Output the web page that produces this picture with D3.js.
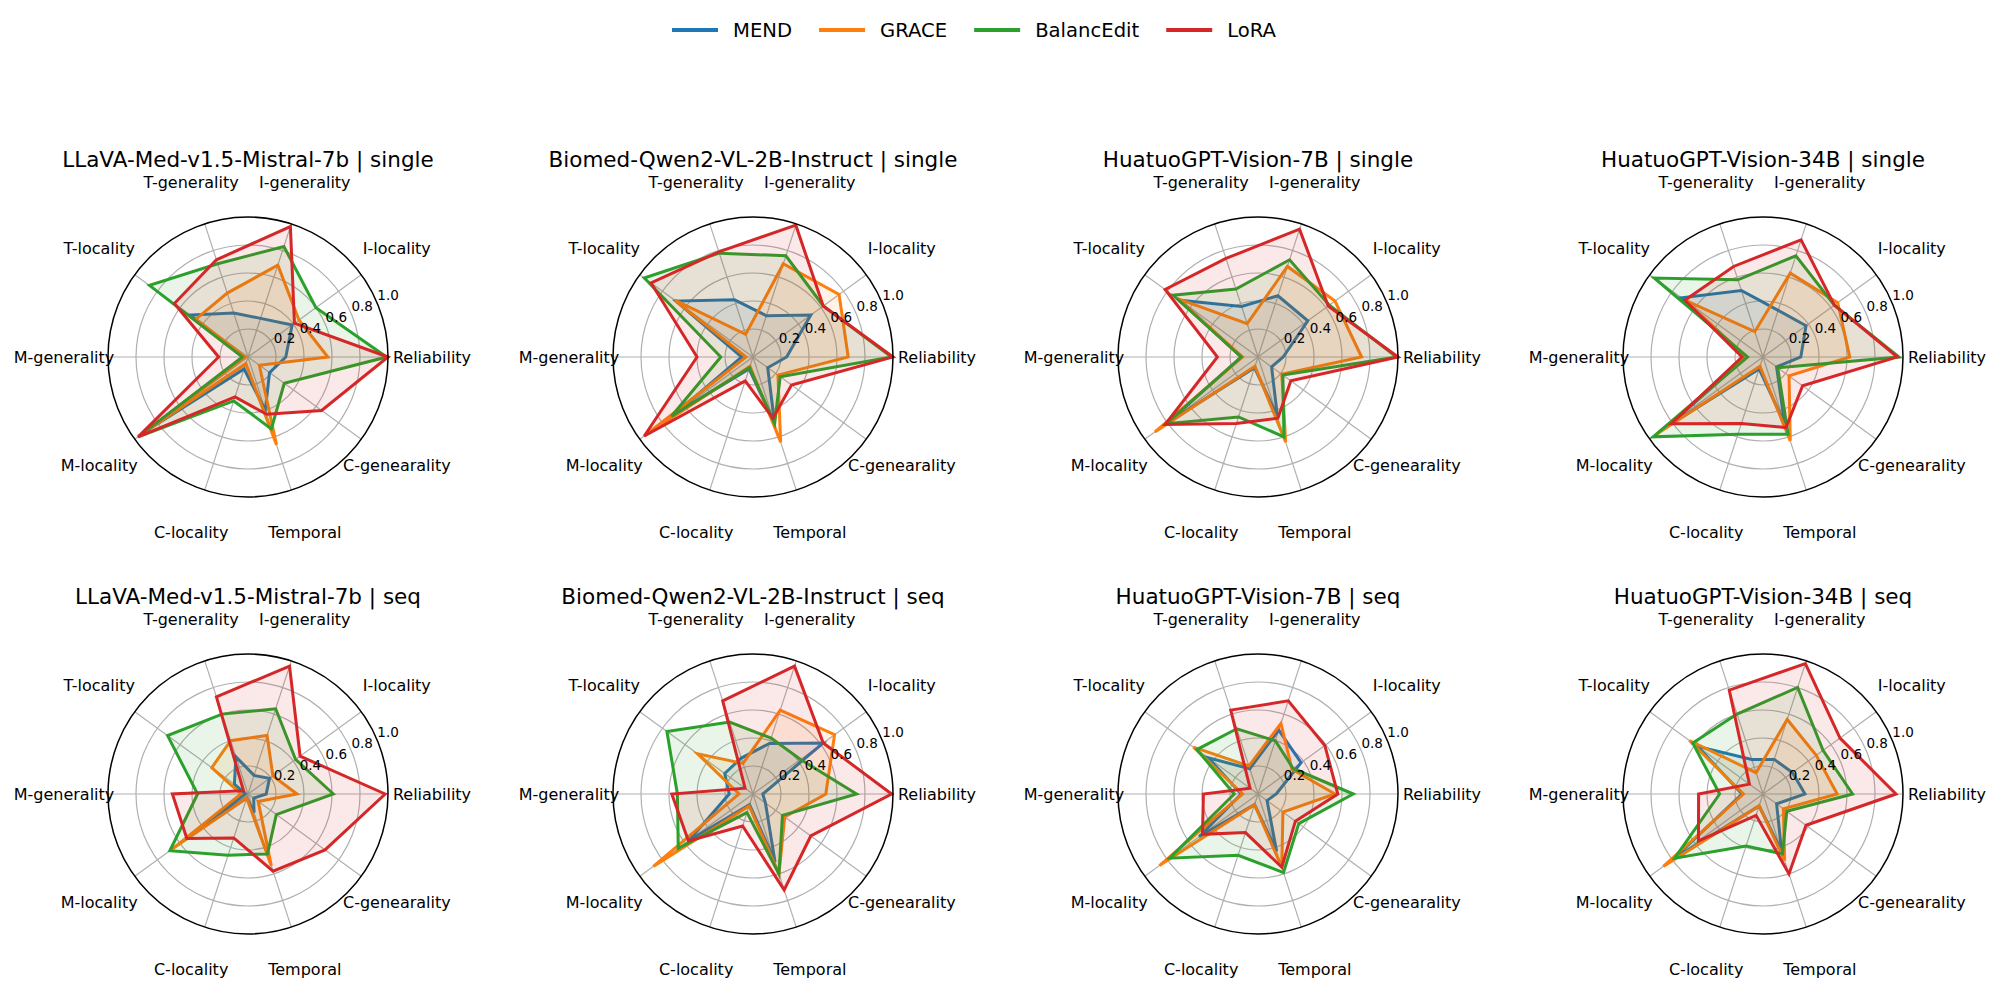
<!DOCTYPE html>
<html>
<head>
<meta charset="utf-8">
<script src="https://cdn.jsdelivr.net/npm/d3@7"></script>
<style>
  body { margin: 0; background: #fff; }
  text { font-family: "DejaVu Sans", sans-serif; fill: #000; }
</style>
</head>
<body>
<div id="chart"></div>
<script>
// axes, clockwise order of the data arrays (drawn counter-clockwise from 3 o'clock)
var metrics = ["Reliability", "I-locality", "I-generality", "T-generality", "T-locality",
               "M-generality", "M-locality", "C-locality", "Temporal", "C-genearality"];
var methods = ["MEND", "GRACE", "BalancEdit", "LoRA"];
var models = ["LLaVA-Med-v1.5-Mistral-7b", "Biomed-Qwen2-VL-2B-Instruct",
              "HuatuoGPT-Vision-7B", "HuatuoGPT-Vision-34B"];
var settings = ["single", "seq"];
var rTicks = [0.2, 0.4, 0.6, 0.8, 1.0];

// one array per panel, rows = methods (MEND, GRACE, BalancEdit, LoRA)
var llavaSingle = [
    [0.27, 0.39, 0.29, 0.33, 0.51, 0.03, 0.90, 0.09, 0.40, 0.19],
    [0.57, 0.45, 0.69, 0.48, 0.46, 0.02, 0.94, 0.05, 0.66, 0.10],
    [0.99, 0.60, 0.83, 0.70, 0.87, 0.04, 0.97, 0.33, 0.54, 0.32],
    [1.00, 0.41, 0.98, 0.73, 0.65, 0.21, 0.97, 0.30, 0.43, 0.65]];
var biomedSingle = [
    [0.24, 0.51, 0.31, 0.43, 0.68, 0.08, 0.68, 0.09, 0.50, 0.13],
    [0.68, 0.76, 0.70, 0.17, 0.69, 0.05, 0.96, 0.07, 0.64, 0.22],
    [0.99, 0.62, 0.76, 0.78, 0.96, 0.23, 0.72, 0.08, 0.50, 0.24],
    [1.00, 0.62, 0.99, 0.79, 0.90, 0.40, 0.96, 0.18, 0.46, 0.34]];
var huatuo7Single = [
    [0.18, 0.44, 0.46, 0.38, 0.69, 0.12, 0.80, 0.08, 0.45, 0.12],
    [0.74, 0.68, 0.68, 0.25, 0.71, 0.11, 0.91, 0.07, 0.64, 0.21],
    [0.99, 0.63, 0.73, 0.51, 0.75, 0.12, 0.81, 0.45, 0.60, 0.22],
    [1.00, 0.62, 0.96, 0.74, 0.82, 0.29, 0.82, 0.50, 0.46, 0.29]];
var huatuo34Single = [
    [0.27, 0.38, 0.35, 0.50, 0.72, 0.12, 0.82, 0.09, 0.50, 0.12],
    [0.62, 0.66, 0.63, 0.19, 0.69, 0.12, 0.94, 0.07, 0.63, 0.23],
    [0.97, 0.63, 0.76, 0.58, 0.96, 0.11, 0.97, 0.58, 0.58, 0.13],
    [0.96, 0.63, 0.88, 0.68, 0.69, 0.15, 0.81, 0.50, 0.53, 0.35]];
var llavaSeq = [
    [0.13, 0.19, 0.14, 0.28, 0.12, 0.02, 0.45, 0.03, 0.14, 0.05],
    [0.35, 0.22, 0.44, 0.40, 0.32, 0.05, 0.67, 0.03, 0.54, 0.09],
    [0.61, 0.42, 0.64, 0.60, 0.71, 0.36, 0.69, 0.46, 0.45, 0.25],
    [0.98, 0.46, 0.96, 0.73, 0.04, 0.54, 0.54, 0.33, 0.58, 0.68]];
var biomedSeq = [
    [0.07, 0.62, 0.38, 0.27, 0.25, 0.17, 0.57, 0.08, 0.51, 0.11],
    [0.52, 0.72, 0.63, 0.23, 0.49, 0.10, 0.88, 0.09, 0.60, 0.28],
    [0.74, 0.42, 0.42, 0.54, 0.76, 0.54, 0.66, 0.14, 0.60, 0.26],
    [0.99, 0.62, 0.96, 0.70, 0.07, 0.58, 0.57, 0.24, 0.72, 0.51]];
var huatuo7Seq = [
    [0.13, 0.38, 0.48, 0.19, 0.44, 0.12, 0.52, 0.08, 0.43, 0.08],
    [0.55, 0.30, 0.53, 0.21, 0.57, 0.11, 0.87, 0.08, 0.55, 0.22],
    [0.68, 0.31, 0.40, 0.49, 0.54, 0.17, 0.78, 0.46, 0.59, 0.36],
    [0.57, 0.59, 0.70, 0.63, 0.07, 0.39, 0.49, 0.29, 0.55, 0.33]];
var huatuo34Seq = [
    [0.30, 0.26, 0.26, 0.26, 0.58, 0.15, 0.80, 0.09, 0.43, 0.12],
    [0.53, 0.47, 0.56, 0.16, 0.65, 0.14, 0.88, 0.09, 0.50, 0.18],
    [0.64, 0.53, 0.80, 0.60, 0.62, 0.31, 0.78, 0.39, 0.45, 0.21],
    [0.95, 0.68, 0.98, 0.78, 0.12, 0.46, 0.57, 0.16, 0.60, 0.38]];

var panels = [llavaSingle, biomedSingle, huatuo7Single, huatuo34Single,
              llavaSeq, biomedSeq, huatuo7Seq, huatuo34Seq];

var colors = ["#1f77b4", "#ff7f0e", "#2ca02c", "#d62728"];

var width = 2000, height = 990,
    R = 140,          // outer radius of each radar
    labelR = 184;     // where the axis names sit

var svg = d3.select("#chart").append("svg")
    .attr("width", width)
    .attr("height", height);

svg.append("rect").attr("width", width).attr("height", height).attr("fill", "#fff");

// grid of panel centres
var cx = d3.scalePoint().domain(d3.range(4)).range([248, 1763]);
var cy = d3.scalePoint().domain(d3.range(2)).range([357, 794]);

var r = d3.scaleLinear().domain([0, 1]).range([0, R]);
// math angle, counter-clockwise from 3 o'clock
var theta = d3.scaleLinear().domain([0, metrics.length]).range([0, 2 * Math.PI]);

var line = d3.lineRadial()
    .angle((d, i) => Math.PI / 2 - theta(i))   // d3 measures clockwise from 12 o'clock
    .radius(d => r(d))
    .curve(d3.curveLinearClosed);

panels.forEach(function(data, p) {
    var col = p % 4, row = Math.floor(p / 4);
    var g = svg.append("g")
        .attr("transform", "translate(" + cx(col) + "," + cy(row) + ")");

    // grid circles
    g.selectAll(".ring")
        .data(rTicks.slice(0, -1))
        .enter().append("circle")
        .attr("r", d => r(d))
        .attr("fill", "none")
        .attr("stroke", "#b0b0b0")
        .attr("stroke-width", 1.2);

    // spokes
    g.selectAll(".spoke")
        .data(metrics)
        .enter().append("line")
        .attr("x2", (d, i) => R * Math.cos(theta(i)))
        .attr("y2", (d, i) => -R * Math.sin(theta(i)))
        .attr("stroke", "#b0b0b0")
        .attr("stroke-width", 1.2);

    // series: fill then line, in method order so LoRA ends up on top
    data.forEach(function(vals, m) {
        g.append("path")
            .attr("d", line(vals))
            .attr("fill", colors[m])
            .attr("fill-opacity", 0.1)
            .attr("stroke", "none");
        g.append("path")
            .attr("d", line(vals))
            .attr("fill", "none")
            .attr("stroke", colors[m])
            .attr("stroke-width", 3)
            .attr("stroke-linejoin", "miter");
    });

    // outer spine
    g.append("circle")
        .attr("r", R)
        .attr("fill", "none")
        .attr("stroke", "#000")
        .attr("stroke-width", 1.5);

    // radial tick labels at 22.5 degrees
    var a = 22.5 * Math.PI / 180;
    g.selectAll(".rlab")
        .data(rTicks)
        .enter().append("text")
        .attr("x", d => r(d) * Math.cos(a))
        .attr("y", d => -r(d) * Math.sin(a) - 3)
        .attr("text-anchor", "start")
        .style("font-size", "13.5px")
        .text(d => d3.format(".1f")(d));

    // axis names
    g.selectAll(".axlab")
        .data(metrics)
        .enter().append("text")
        .attr("x", (d, i) => labelR * Math.cos(theta(i)))
        .attr("y", (d, i) => -labelR * Math.sin(theta(i)))
        .attr("dy", "0.35em")
        .attr("text-anchor", "middle")
        .style("font-size", "16px")
        .text(d => d);

    // title
    g.append("text")
        .attr("y", -198)
        .attr("dy", "0.35em")
        .attr("text-anchor", "middle")
        .style("font-size", "21.5px")
        .text(models[col] + " | " + settings[row]);
});

// legend across the top
var legend = svg.append("g").attr("transform", "translate(672,30)");
var lx = 0;
methods.forEach(function(name, i) {
    var item = legend.append("g").attr("transform", "translate(" + lx + ",0)");
    item.append("line")
        .attr("x2", 46)
        .attr("stroke", colors[i])
        .attr("stroke-width", 4);
    var t = item.append("text")
        .attr("x", 61)
        .attr("dy", "0.35em")
        .style("font-size", "19.6px")
        .text(name);
    lx += 61 + t.node().getComputedTextLength() + 27;
});
</script>
</body>
</html>
